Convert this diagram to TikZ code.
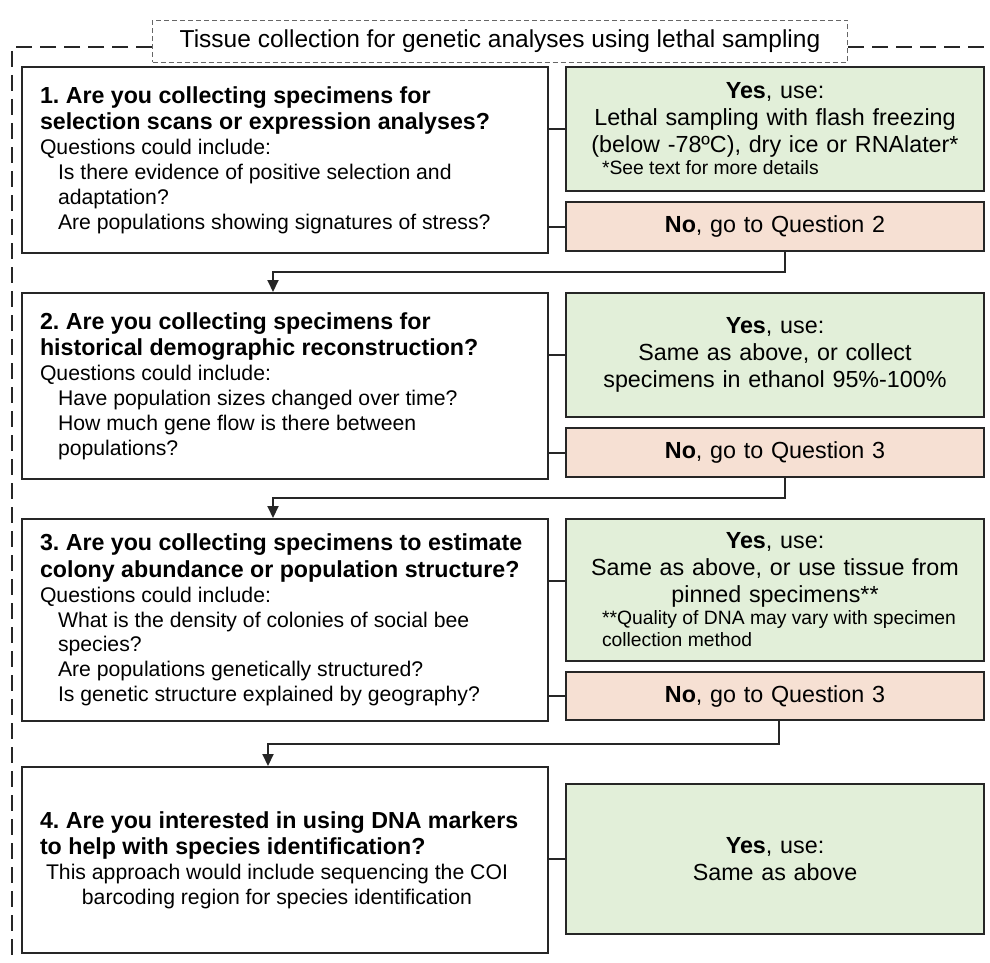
\documentclass[tikz,border=0pt]{standalone}
\usepackage{fontspec}
\setmainfont{Liberation Sans}
\usetikzlibrary{positioning,arrows.meta,calc}

\definecolor{yesgreen}{HTML}{E2EFD9}
\definecolor{nopeach}{HTML}{F6E0D3}
\definecolor{linegray}{HTML}{262626}

\frenchspacing
\newcommand{\normspace}{\spaceskip=0pt\xspaceskip=0pt}
\newcommand{\qhead}{\fontsize{23.2}{26.5}\selectfont\bfseries\normspace}
\newcommand{\qtext}{\fontsize{21.2}{24.8}\selectfont\normspace}
\newcommand{\ynote}{\fontsize{19.3}{22}\selectfont\normspace}
\newcommand{\qind}{\hspace*{18pt}}

\begin{document}
\begin{tikzpicture}[
    x=1pt, y=-1pt,
    qbox/.style={rectangle,draw=linegray,line width=2pt,fill=white,anchor=north west,
        minimum width=526pt,inner xsep=18pt,inner ysep=0pt,text width=490pt,align=left},
    ybox/.style={rectangle,draw=linegray,line width=2pt,fill=yesgreen,anchor=north west,
        minimum width=418pt,inner xsep=19pt,inner ysep=0pt,text width=380pt,align=center,
        font=\fontsize{23.3}{27}\selectfont\normspace},
    nbox/.style={ybox,fill=nopeach,minimum height=49pt},
    link/.style={draw=linegray,line width=2pt},
    arrow/.style={link,-{Triangle[length=12pt,width=11pt]}},
    frame/.style={draw=linegray,line width=2pt,dash pattern=on 16pt off 8pt}
]
\useasboundingbox (0,0) rectangle (990,963);

% Title
\node[draw=black!60,line width=1pt,dash pattern=on 5pt off 3pt,anchor=north west,
    minimum width=695pt,minimum height=42pt,inner sep=0pt,font=\fontsize{24.5}{28}\selectfont]
    (title) at (152,20) {Tissue collection for genetic analyses using lethal sampling};
\draw[frame] (title.west |- 0,47) -- (12,47) -- (12,963);
\draw[frame] (title.east |- 0,47) -- (990,47);

% Question 1
\node[qbox,minimum height=186pt] (q1) at (21,66) {%
    {\qhead 1. Are you collecting specimens for\\ selection scans or expression analyses?\par}%
    {\qtext Questions could include:\\ \qind Is there evidence of positive selection and\\
    \qind adaptation?\\ \qind Are populations showing signatures of stress?\par}};
\node[ybox,minimum height=124pt] (y1) at (565,66) {%
    \textbf{Yes}, use:\\ Lethal sampling with flash freezing\\ (below -78ºC), dry ice or RNAlater*\par
    {\ynote\raggedright\hspace*{17pt}*See text for more details\par}};
\node[nbox] (n1) at (565,201) {\textbf{No}, go to Question 2};

% Question 2
\node[qbox,minimum height=186pt] (q2) at (21,292) {%
    {\qhead 2. Are you collecting specimens for\\ historical demographic reconstruction?\par}%
    {\qtext Questions could include:\\ \qind Have population sizes changed over time?\\
    \qind How much gene flow is there between\\ \qind populations?\par}};
\node[ybox,minimum height=124pt] (y2) at (565,292) {%
    \textbf{Yes}, use:\\ Same as above, or collect\\ specimens in ethanol 95\%-100\%};
\node[nbox] (n2) at (565,427) {\textbf{No}, go to Question 3};

% Question 3
\node[qbox,minimum height=202pt] (q3) at (21,518) {%
    {\qhead 3. Are you collecting specimens to estimate\\ colony abundance or population structure?\par}%
    {\qtext Questions could include:\\ \qind What is the density of colonies of social bee\\
    \qind species?\\ \qind Are populations genetically structured?\\
    \qind Is genetic structure explained by geography?\par}};
\node[ybox,minimum height=142pt] (y3) at (565,518) {%
    \textbf{Yes}, use:\\ Same as above, or use tissue from\\ pinned specimens**\par
    {\ynote\raggedright\hspace*{17pt}**Quality of DNA may vary with specimen\\
    \hspace*{17pt}collection method\par}};
\node[nbox,minimum height=48pt] (n3) at (565,671) {\textbf{No}, go to Question 3};

% Question 4
\node[qbox,minimum height=186pt] (q4) at (21,766) {%
    {\qhead 4. Are you interested in using DNA markers\\ to help with species identification?\par}%
    {\qtext\leftskip=0pt plus 1fil\rightskip=16pt plus 1fil\parfillskip=0pt
    This approach would include sequencing the COI\\ barcoding region for species identification\par}};
\node[ybox,minimum height=150pt] (y4) at (565,783) {\textbf{Yes}, use:\\ Same as above};

% Links to answers
\draw[link] (q1.east |- y1.west) -- (y1.west);
\draw[link] (q1.east |- n1.west) -- (n1.west);
\draw[link] (q2.east |- y2.west) -- (y2.west);
\draw[link] (q2.east |- n2.west) -- (n2.west);
\coordinate (c3) at ($(y3.west)+(0,-9)$);
\draw[link] (q3.east |- c3) -- (c3);
\draw[link] (q3.east |- n3.west) -- (n3.west);
\draw[link] (q4.east |- y4.west) -- (y4.west);

% Next question
\draw[arrow] ($(n1.south)+(10,0)$) -- ++(0,20) -| ($(q2.north)+(-12,0)$);
\draw[arrow] ($(n2.south)+(10,0)$) -- ++(0,20) -| ($(q3.north)+(-12,0)$);
\draw[arrow] ($(n3.south)+(4,0)$) -- ++(0,23) -| ($(q4.north)+(-17,0)$);

\end{tikzpicture}
\end{document}
